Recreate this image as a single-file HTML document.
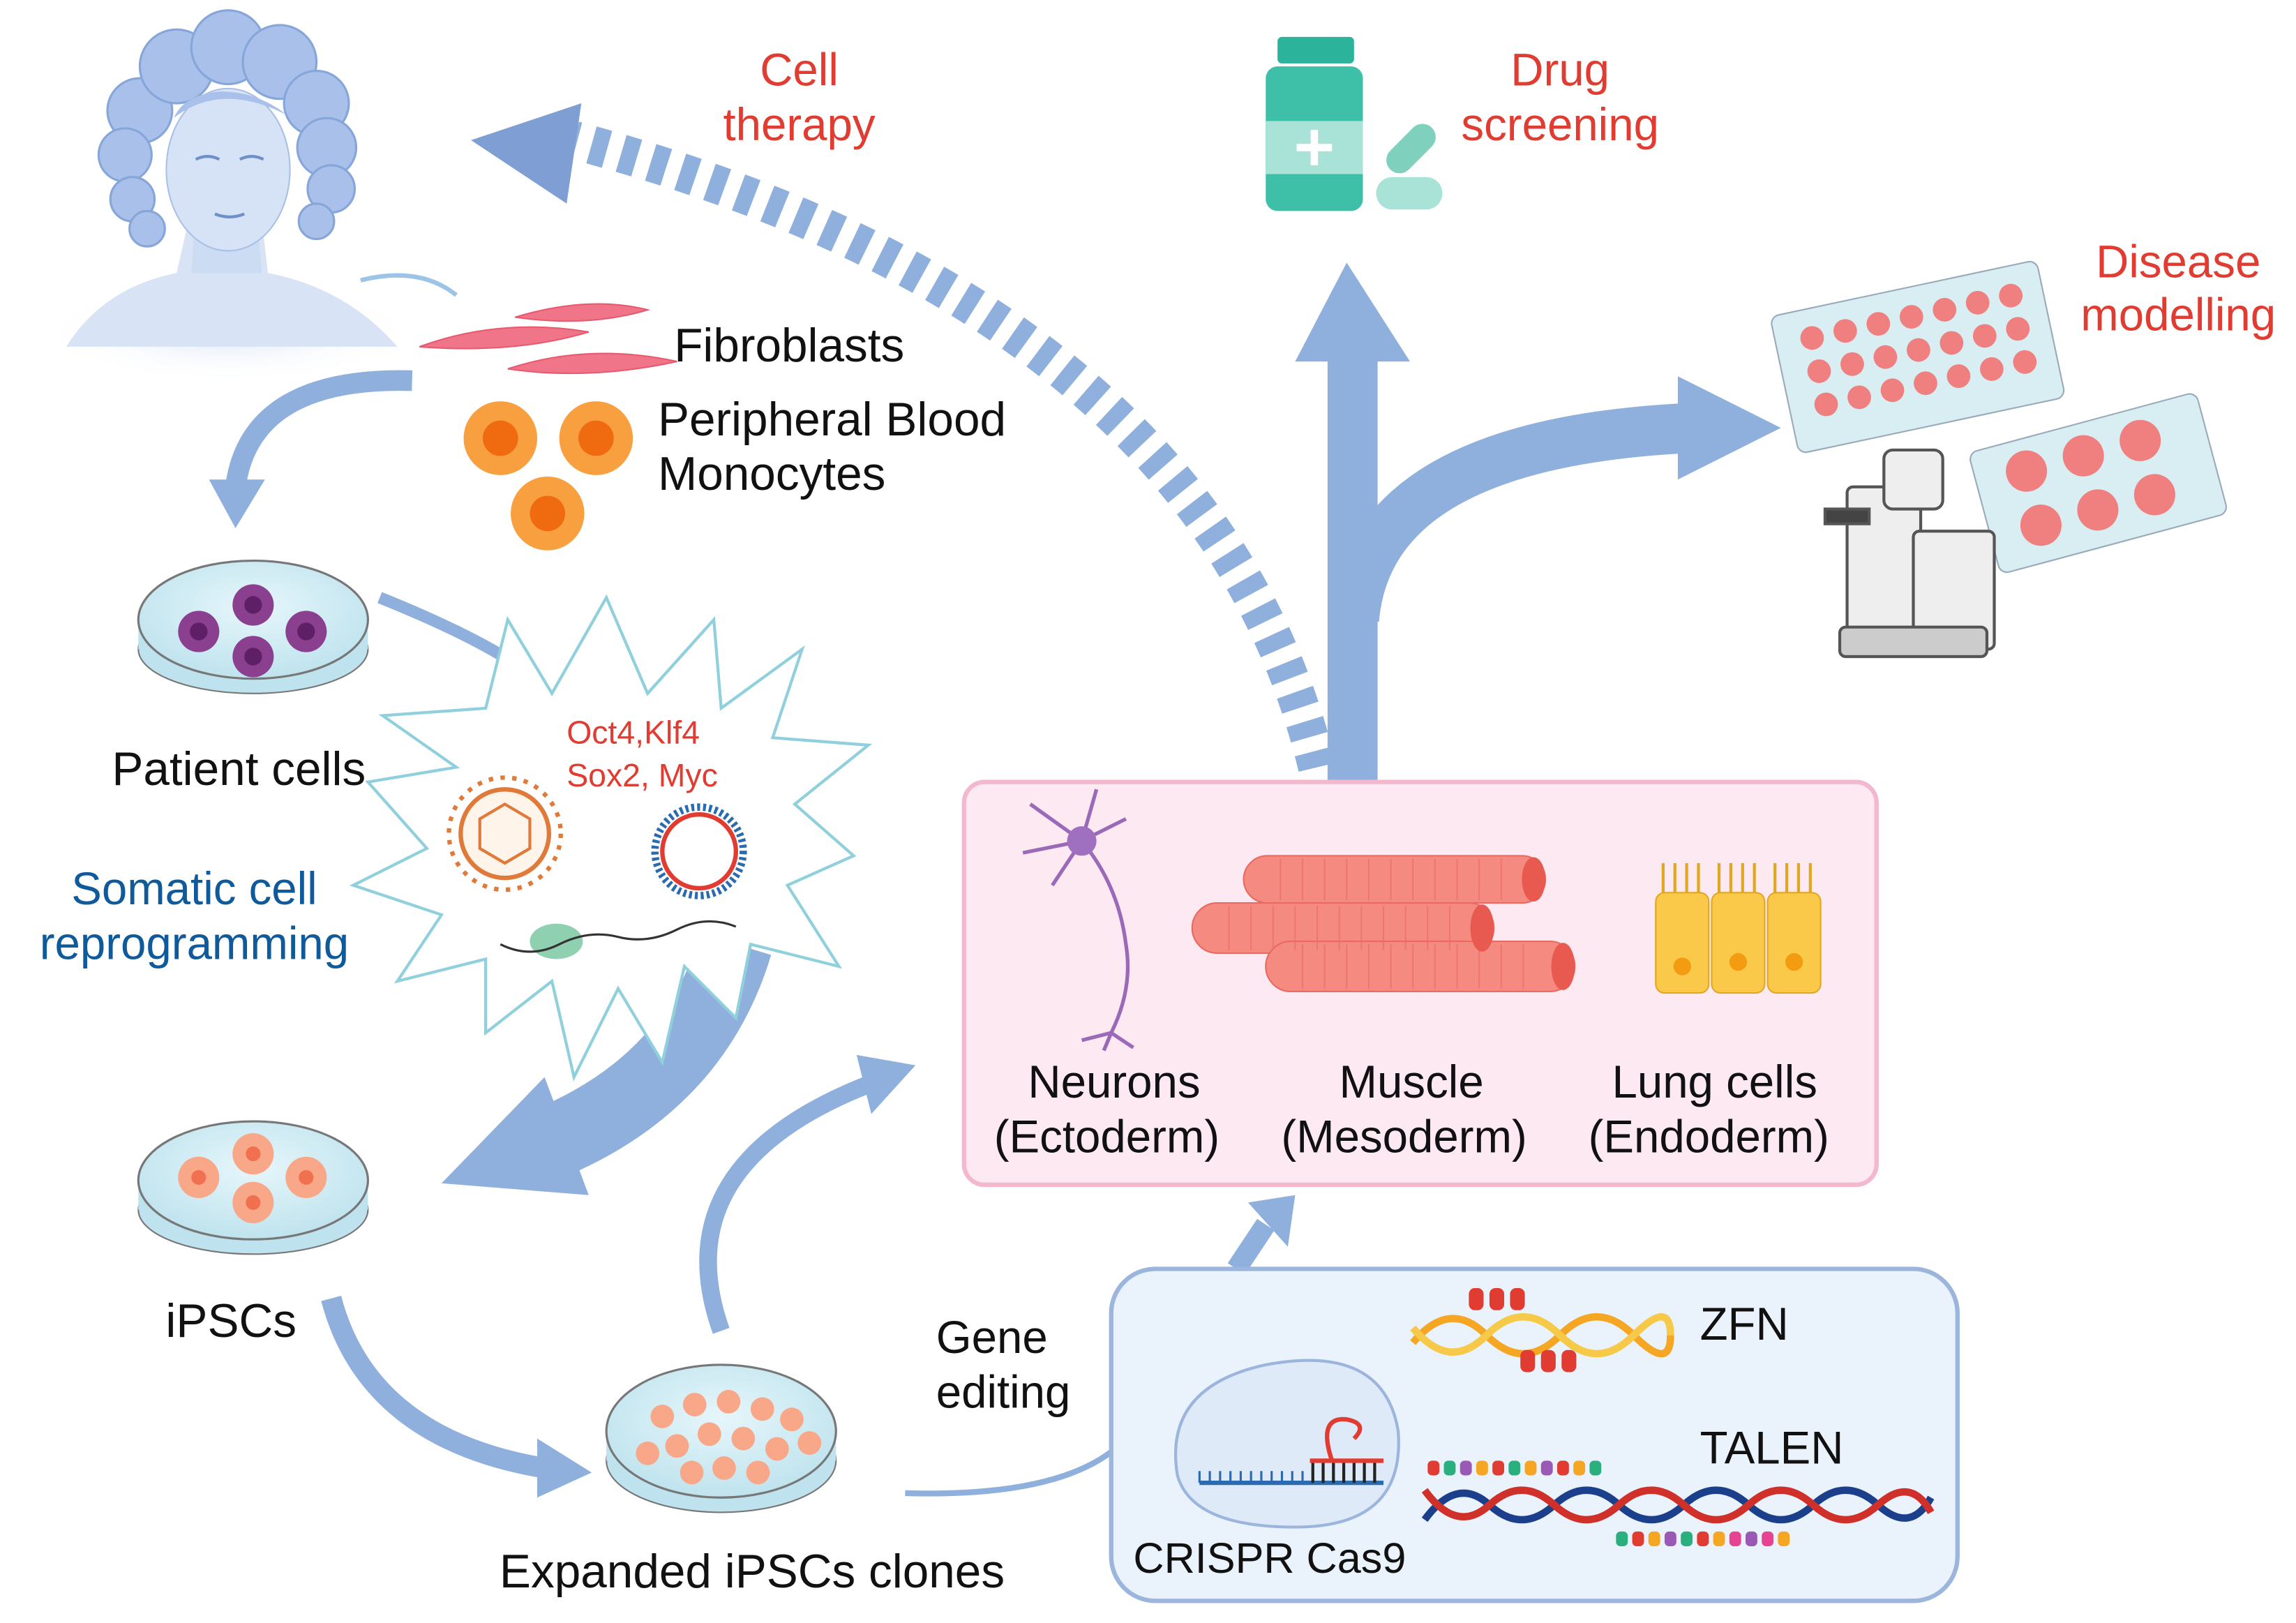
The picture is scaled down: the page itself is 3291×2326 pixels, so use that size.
<!DOCTYPE html>
<html><head><meta charset="utf-8"><style>
html,body{margin:0;padding:0;background:#fff;}
svg{display:block;}
text{font-family:"Liberation Sans",sans-serif;}
</style></head><body>
<svg width="3291" height="2326" viewBox="0 0 1560 1100" preserveAspectRatio="none" xmlns="http://www.w3.org/2000/svg">
<defs>
<radialGradient id="dish" cx="50%" cy="40%" r="60%"><stop offset="0" stop-color="#e6f6fb"/><stop offset="1" stop-color="#bfe3ee"/></radialGradient>
<radialGradient id="glow" cx="50%" cy="50%" r="50%"><stop offset="0" stop-color="#dbe7f7"/><stop offset="1" stop-color="#fff" stop-opacity="0"/></radialGradient>
</defs>
<rect width="1560" height="1100" fill="#fff"/>

<!-- woman -->
<ellipse cx="155" cy="225" rx="130" ry="35" fill="url(#glow)"/>
<path d="M45 235 Q70 195 120 185 L128 150 L178 150 L182 185 Q235 195 270 235 Z" fill="#d8e4f6"/>
<g fill="#a9c1ea" stroke="#86a6da" stroke-width="1.5">
<circle cx="95" cy="75" r="22"/><circle cx="120" cy="45" r="25"/><circle cx="155" cy="32" r="25"/><circle cx="190" cy="42" r="25"/><circle cx="215" cy="70" r="22"/>
<circle cx="85" cy="105" r="18"/><circle cx="222" cy="100" r="20"/><circle cx="90" cy="135" r="15"/><circle cx="225" cy="128" r="16"/><circle cx="215" cy="150" r="12"/><circle cx="100" cy="155" r="12"/>
</g>
<path d="M132 150 L130 185 L178 185 L175 150Z" fill="#ccdcf3"/>
<ellipse cx="155" cy="115" rx="42" ry="55" fill="#d6e3f6" stroke="#a9c0e6"/>
<path d="M118 80 Q150 55 195 78 Q175 62 150 62 Q125 64 118 80Z" fill="#a9c1ea"/>
<g stroke="#6f8fc8" stroke-width="2" fill="none"><path d="M133 108 q8 -4 16 0 M163 108 q8 -4 16 0 M146 145 q10 4 20 0"/></g>
<path d="M245 190 Q285 180 310 200" stroke="#9cc4e6" stroke-width="3" fill="none"/>

<!-- cell therapy dashed arrow -->
<path d="M895 520 Q820 210 390 95" stroke="#8fb0dc" stroke-width="26" fill="none" stroke-dasharray="11 10"/>
<polygon points="320,95 395,70 385,138" fill="#7f9fd4"/>
<text x="543" y="58" font-size="31" fill="#e03c31" text-anchor="middle">Cell</text>
<text x="543" y="95" font-size="31" fill="#e03c31" text-anchor="middle">therapy</text>

<!-- drug screening -->
<rect x="868" y="25" width="52" height="18" rx="3" fill="#2bb39b"/>
<rect x="860" y="45" width="66" height="98" rx="8" fill="#3ec0a8"/>
<rect x="860" y="82" width="66" height="36" fill="#a9e2d6"/>
<path d="M893 88 v24 M881 100 h24" stroke="#fff" stroke-width="5"/>
<rect x="935" y="120" width="45" height="22" rx="11" fill="#a9e2d6"/>
<rect x="938" y="92" width="40" height="18" rx="9" transform="rotate(-45 958 100)" fill="#7fd1bd"/>
<text x="1060" y="58" font-size="31" fill="#e03c31" text-anchor="middle">Drug</text>
<text x="1060" y="95" font-size="31" fill="#e03c31" text-anchor="middle">screening</text>

<!-- up arrow and right curved arrow -->
<rect x="902" y="240" width="34" height="290" fill="#8fb0dc"/>
<polygon points="880,245 958,245 915,178" fill="#8fb0dc"/>
<path d="M920 420 Q930 300 1150 290" stroke="#8fb0dc" stroke-width="34" fill="none"/>
<polygon points="1140,255 1210,290 1140,325" fill="#8fb0dc"/>

<!-- disease modelling -->
<text x="1480" y="188" font-size="31" fill="#e03c31" text-anchor="middle">Disease</text>
<text x="1480" y="224" font-size="31" fill="#e03c31" text-anchor="middle">modelling</text>
<g transform="rotate(-12 1300 240)">
<rect x="1210" y="195" width="185" height="95" rx="6" fill="#d8eef2" stroke="#9ab"/>
<g fill="#f08080">
<circle cx="1235" cy="215" r="8"/><circle cx="1258" cy="215" r="8"/><circle cx="1281" cy="215" r="8"/><circle cx="1304" cy="215" r="8"/><circle cx="1327" cy="215" r="8"/><circle cx="1350" cy="215" r="8"/><circle cx="1373" cy="215" r="8"/>
<circle cx="1235" cy="238" r="8"/><circle cx="1258" cy="238" r="8"/><circle cx="1281" cy="238" r="8"/><circle cx="1304" cy="238" r="8"/><circle cx="1327" cy="238" r="8"/><circle cx="1350" cy="238" r="8"/><circle cx="1373" cy="238" r="8"/>
<circle cx="1235" cy="261" r="8"/><circle cx="1258" cy="261" r="8"/><circle cx="1281" cy="261" r="8"/><circle cx="1304" cy="261" r="8"/><circle cx="1327" cy="261" r="8"/><circle cx="1350" cy="261" r="8"/><circle cx="1373" cy="261" r="8"/>
</g></g>
<g transform="rotate(-15 1425 325)">
<rect x="1345" y="285" width="160" height="85" rx="6" fill="#d8eef2" stroke="#9ab"/>
<g fill="#f08080"><circle cx="1380" cy="307" r="14"/><circle cx="1420" cy="307" r="14"/><circle cx="1460" cy="307" r="14"/><circle cx="1380" cy="345" r="14"/><circle cx="1420" cy="345" r="14"/><circle cx="1460" cy="345" r="14"/></g></g>
<g fill="#eeeeee" stroke="#555" stroke-width="2">
<rect x="1255" y="330" width="50" height="110" rx="4"/>
<rect x="1280" y="305" width="40" height="40" rx="6"/>
<rect x="1300" y="360" width="55" height="80" rx="4"/>
<rect x="1240" y="345" width="30" height="10" fill="#444"/>
<rect x="1250" y="425" width="100" height="20" rx="4" fill="#ccc"/>
</g>

<!-- fibroblasts & monocytes -->
<g fill="#f07589" stroke="#e85a70">
<path d="M285 235 Q340 215 400 225 Q350 240 285 235Z"/>
<path d="M350 215 Q400 200 440 210 Q400 222 350 215Z"/>
<path d="M345 250 Q400 232 460 245 Q400 258 345 250Z"/>
</g>
<text x="458" y="245" font-size="32" fill="#111">Fibroblasts</text>
<g><circle cx="340" cy="297" r="25" fill="#f8a040"/><circle cx="340" cy="297" r="12" fill="#f06a10"/>
<circle cx="405" cy="297" r="25" fill="#f8a040"/><circle cx="405" cy="297" r="12" fill="#f06a10"/>
<circle cx="372" cy="348" r="25" fill="#f8a040"/><circle cx="372" cy="348" r="12" fill="#f06a10"/></g>
<text x="447" y="295" font-size="32" fill="#111">Peripheral Blood</text>
<text x="447" y="332" font-size="32" fill="#111">Monocytes</text>

<!-- arrow to patient cells -->
<path d="M280 258 Q170 255 160 330" stroke="#8fb0dc" stroke-width="14" fill="none"/>
<polygon points="142,325 180,325 160,358" fill="#8fb0dc"/>

<!-- patient dish -->
<ellipse cx="172" cy="440" rx="78" ry="30" fill="#bfe3ee" stroke="#777"/>
<rect x="94" y="420" width="156" height="20" fill="#bfe3ee"/>
<ellipse cx="172" cy="420" rx="78" ry="40" fill="url(#dish)" stroke="#777" stroke-width="1.5"/>
<g fill="#8a3f8f"><circle cx="135" cy="428" r="14"/><circle cx="172" cy="410" r="14"/><circle cx="208" cy="428" r="14"/><circle cx="172" cy="445" r="14"/></g>
<g fill="#5e1f66"><circle cx="135" cy="428" r="6"/><circle cx="172" cy="410" r="6"/><circle cx="208" cy="428" r="6"/><circle cx="172" cy="445" r="6"/></g>
<text x="76" y="532" font-size="32" fill="#111">Patient cells</text>
<path d="M258 405 Q320 430 350 450" stroke="#8fb0dc" stroke-width="8" fill="none"/>

<!-- big arrow from burst to iPSCs -->
<path d="M500 640 Q470 740 360 780" stroke="#8fb0dc" stroke-width="50" fill="none"/>
<polygon points="300,802 400,810 370,730" fill="#8fb0dc"/>

<!-- starburst -->
<polygon fill="#fff" stroke="#8fd0dc" stroke-width="2" points="412,405 440,470 485,420 490,480 545,440 525,500 590,505 540,545 580,580 535,600 570,655 510,640 500,690 465,655 450,720 420,670 390,730 375,665 330,700 330,650 270,665 300,620 240,600 290,575 250,530 310,520 260,485 330,480 345,420 375,470"/>
<text x="385" y="504" font-size="22" fill="#e03c31">Oct4,Klf4</text>
<text x="385" y="533" font-size="22" fill="#e03c31">Sox2, Myc</text>
<circle cx="343" cy="565" r="38" fill="none" stroke="#e07a3a" stroke-width="3" stroke-dasharray="3 5"/>
<circle cx="343" cy="565" r="30" fill="#fff4ea" stroke="#e07a3a" stroke-width="3"/>
<polygon points="343,545 360,555 360,575 343,585 326,575 326,555" fill="none" stroke="#e07a3a" stroke-width="2"/>
<circle cx="475" cy="577" r="30" fill="none" stroke="#2a6ab0" stroke-width="5" stroke-dasharray="2 2"/>
<circle cx="475" cy="577" r="25" fill="none" stroke="#e03c31" stroke-width="3"/>
<ellipse cx="378" cy="638" rx="18" ry="12" fill="#8fd0b0"/>
<path d="M340 640 Q360 650 380 640 T420 635 T460 630 T500 628" stroke="#333" stroke-width="1.5" fill="none"/>

<text x="132" y="613" font-size="31" fill="#0e5a9a" text-anchor="middle">Somatic cell</text>
<text x="132" y="650" font-size="31" fill="#0e5a9a" text-anchor="middle">reprogramming</text>

<!-- iPSCs dish -->
<ellipse cx="172" cy="820" rx="78" ry="30" fill="#bfe3ee" stroke="#777"/>
<rect x="94" y="800" width="156" height="20" fill="#bfe3ee"/>
<ellipse cx="172" cy="800" rx="78" ry="40" fill="url(#dish)" stroke="#777" stroke-width="1.5"/>
<g fill="#f8a888"><circle cx="135" cy="798" r="14"/><circle cx="172" cy="782" r="14"/><circle cx="208" cy="798" r="14"/><circle cx="172" cy="815" r="14"/></g>
<g fill="#f07050"><circle cx="135" cy="798" r="5"/><circle cx="172" cy="782" r="5"/><circle cx="208" cy="798" r="5"/><circle cx="172" cy="815" r="5"/></g>
<text x="157" y="906" font-size="32" fill="#111" text-anchor="middle">iPSCs</text>

<!-- arrow iPSCs -> expanded -->
<path d="M225 880 Q250 975 370 995" stroke="#8fb0dc" stroke-width="14" fill="none"/>
<polygon points="365,975 402,998 365,1015" fill="#8fb0dc"/>

<!-- expanded dish -->
<ellipse cx="490" cy="990" rx="78" ry="35" fill="#bfe3ee" stroke="#777"/>
<rect x="412" y="970" width="156" height="20" fill="#bfe3ee"/>
<ellipse cx="490" cy="970" rx="78" ry="45" fill="url(#dish)" stroke="#777" stroke-width="1.5"/>
<g fill="#f8a888">
<circle cx="450" cy="960" r="8"/><circle cx="472" cy="952" r="8"/><circle cx="495" cy="950" r="8"/><circle cx="518" cy="955" r="8"/><circle cx="538" cy="962" r="8"/>
<circle cx="460" cy="980" r="8"/><circle cx="482" cy="972" r="8"/><circle cx="505" cy="975" r="8"/><circle cx="528" cy="982" r="8"/><circle cx="550" cy="978" r="8"/>
<circle cx="470" cy="998" r="8"/><circle cx="492" cy="995" r="8"/><circle cx="515" cy="998" r="8"/><circle cx="440" cy="985" r="8"/></g>
<text x="511" y="1076" font-size="32" fill="#111" text-anchor="middle">Expanded iPSCs clones</text>

<!-- arrow expanded -> differentiated -->
<path d="M490 902 Q450 790 590 735" stroke="#8fb0dc" stroke-width="12" fill="none"/>
<polygon points="582,715 622,722 592,755" fill="#8fb0dc"/>

<!-- pink box -->
<rect x="655" y="530" width="620" height="273" rx="14" fill="#fde9f1" stroke="#f3b8cd" stroke-width="3"/>
<!-- neuron -->
<g stroke="#9a6ab8" stroke-width="2.5" fill="none">
<path d="M735 570 Q760 600 765 640 Q770 670 755 700"/>
<path d="M735 570 L700 545 M735 570 L745 535 M735 570 L695 578 M735 570 L765 555 M735 570 L715 600"/>
<path d="M755 700 L735 705 M755 700 L770 710 M755 700 L750 712"/>
</g>
<circle cx="735" cy="570" r="10" fill="#a070c0"/>
<!-- muscle -->
<g fill="#f58a80" stroke="#e86a60">
<rect x="845" y="580" width="205" height="32" rx="16"/>
<rect x="810" y="612" width="205" height="34" rx="17"/>
<rect x="860" y="638" width="210" height="34" rx="17"/>
</g>
<g stroke="#e8706a" stroke-width="1" opacity="0.7">
<path d="M870 582v28 M885 582v28 M900 582v28 M915 582v28 M930 582v28 M945 582v28 M960 582v28 M975 582v28 M990 582v28 M1005 582v28 M1020 582v28"/>
<path d="M835 614v30 M850 614v30 M865 614v30 M880 614v30 M895 614v30 M910 614v30 M925 614v30 M940 614v30 M955 614v30 M970 614v30 M985 614v30"/>
<path d="M885 640v30 M900 640v30 M915 640v30 M930 640v30 M945 640v30 M960 640v30 M975 640v30 M990 640v30 M1005 640v30 M1020 640v30 M1035 640v30"/>
</g>
<g fill="#e85a50"><ellipse cx="1042" cy="596" rx="8" ry="15"/><ellipse cx="1007" cy="629" rx="8" ry="16"/><ellipse cx="1062" cy="655" rx="8" ry="16"/></g>
<!-- lung cells -->
<g fill="#fbc94a" stroke="#e0a820">
<rect x="1125" y="605" width="36" height="68" rx="6"/>
<rect x="1163" y="605" width="36" height="68" rx="6"/>
<rect x="1201" y="605" width="36" height="68" rx="6"/>
</g>
<g fill="#f39c12"><circle cx="1143" cy="655" r="6"/><circle cx="1181" cy="652" r="6"/><circle cx="1219" cy="652" r="6"/></g>
<g stroke="#e0a820" stroke-width="2"><path d="M1130 605 v-20 M1138 605 v-20 M1146 605 v-20 M1154 605 v-20 M1168 605 v-20 M1176 605 v-20 M1184 605 v-20 M1192 605 v-20 M1206 605 v-20 M1214 605 v-20 M1222 605 v-20 M1230 605 v-20"/></g>
<text x="757" y="744" font-size="31" fill="#111" text-anchor="middle">Neurons</text>
<text x="752" y="781" font-size="31" fill="#111" text-anchor="middle">(Ectoderm)</text>
<text x="959" y="744" font-size="31" fill="#111" text-anchor="middle">Muscle</text>
<text x="954" y="781" font-size="31" fill="#111" text-anchor="middle">(Mesoderm)</text>
<text x="1165" y="744" font-size="31" fill="#111" text-anchor="middle">Lung cells</text>
<text x="1161" y="781" font-size="31" fill="#111" text-anchor="middle">(Endoderm)</text>

<!-- gene editing -->
<text x="636" y="917" font-size="31" fill="#111">Gene</text>
<text x="636" y="954" font-size="31" fill="#111">editing</text>
<path d="M615 1012 Q720 1015 760 980" stroke="#8fb0dc" stroke-width="4" fill="none"/>
<path d="M840 860 L860 830" stroke="#8fb0dc" stroke-width="14"/>
<polygon points="848,815 880,810 875,845" fill="#8fb0dc"/>

<!-- blue box -->
<rect x="755" y="860" width="575" height="225" rx="30" fill="#eaf2fc" stroke="#9bb5dd" stroke-width="3"/>
<path d="M800 1000 Q790 940 860 925 Q940 910 950 970 Q955 1035 880 1035 Q810 1035 800 1000Z" fill="#dfeaf8" stroke="#9bb5dd" stroke-width="2"/>
<path d="M815 1005 H940" stroke="#2a6ab0" stroke-width="3"/>
<path d="M815 1005 v-8 M822 1005 v-8 M829 1005 v-8 M836 1005 v-8 M843 1005 v-8 M850 1005 v-8 M857 1005 v-8 M864 1005 v-8 M871 1005 v-8 M878 1005 v-8 M885 1005 v-8" stroke="#2a6ab0" stroke-width="1.5"/>
<path d="M892 1005 v-15 M899 1005 v-15 M906 1005 v-15 M913 1005 v-15 M920 1005 v-15 M927 1005 v-15 M934 1005 v-15" stroke="#222" stroke-width="2"/>
<path d="M890 990 H940 M905 990 Q895 960 915 962 Q930 965 920 975" stroke="#e03c31" stroke-width="3" fill="none"/>
<text x="770" y="1066" font-size="29" fill="#111">CRISPR Cas9</text>
<!-- ZFN -->
<path d="M960 910 Q985 880 1010 905 T1060 905 T1110 905 T1135 905" stroke="#f5a623" stroke-width="5" fill="none"/>
<path d="M960 900 Q985 930 1010 905 T1060 905 T1110 905 T1135 905" stroke="#f7c948" stroke-width="5" fill="none"/>
<g fill="#e03c31"><rect x="998" y="873" width="10" height="15" rx="4"/><rect x="1012" y="873" width="10" height="15" rx="4"/><rect x="1026" y="873" width="10" height="15" rx="4"/><rect x="1033" y="915" width="10" height="15" rx="4"/><rect x="1047" y="915" width="10" height="15" rx="4"/><rect x="1061" y="915" width="10" height="15" rx="4"/></g>
<text x="1155" y="908" font-size="31" fill="#111">ZFN</text>
<!-- TALEN -->
<text x="1155" y="992" font-size="31" fill="#111">TALEN</text>
<path d="M968 1030 Q990 1000 1012 1020 T1056 1020 T1100 1020 T1144 1020 T1188 1020 T1232 1020 T1276 1020 T1312 1015" stroke="#1c3f8c" stroke-width="5" fill="none"/>
<path d="M968 1010 Q990 1040 1012 1020 T1056 1020 T1100 1020 T1144 1020 T1188 1020 T1232 1020 T1276 1020 T1312 1025" stroke="#d0302a" stroke-width="5" fill="none"/>
<g>
<rect x="970" y="990" width="8" height="10" rx="3" fill="#e03c31"/><rect x="981" y="990" width="8" height="10" rx="3" fill="#2ab07f"/><rect x="992" y="990" width="8" height="10" rx="3" fill="#9b59b6"/><rect x="1003" y="990" width="8" height="10" rx="3" fill="#f5a623"/><rect x="1014" y="990" width="8" height="10" rx="3" fill="#e03c31"/><rect x="1025" y="990" width="8" height="10" rx="3" fill="#2ab07f"/><rect x="1036" y="990" width="8" height="10" rx="3" fill="#f5a623"/><rect x="1047" y="990" width="8" height="10" rx="3" fill="#9b59b6"/><rect x="1058" y="990" width="8" height="10" rx="3" fill="#e03c31"/><rect x="1069" y="990" width="8" height="10" rx="3" fill="#f5a623"/><rect x="1080" y="990" width="8" height="10" rx="3" fill="#2ab07f"/>
<rect x="1098" y="1038" width="8" height="10" rx="3" fill="#2ab07f"/><rect x="1109" y="1038" width="8" height="10" rx="3" fill="#e03c31"/><rect x="1120" y="1038" width="8" height="10" rx="3" fill="#f5a623"/><rect x="1131" y="1038" width="8" height="10" rx="3" fill="#9b59b6"/><rect x="1142" y="1038" width="8" height="10" rx="3" fill="#2ab07f"/><rect x="1153" y="1038" width="8" height="10" rx="3" fill="#e03c31"/><rect x="1164" y="1038" width="8" height="10" rx="3" fill="#f5a623"/><rect x="1175" y="1038" width="8" height="10" rx="3" fill="#e84393"/><rect x="1186" y="1038" width="8" height="10" rx="3" fill="#9b59b6"/><rect x="1197" y="1038" width="8" height="10" rx="3" fill="#e84393"/><rect x="1208" y="1038" width="8" height="10" rx="3" fill="#f5a623"/>
</g>
</svg>
</body></html>
